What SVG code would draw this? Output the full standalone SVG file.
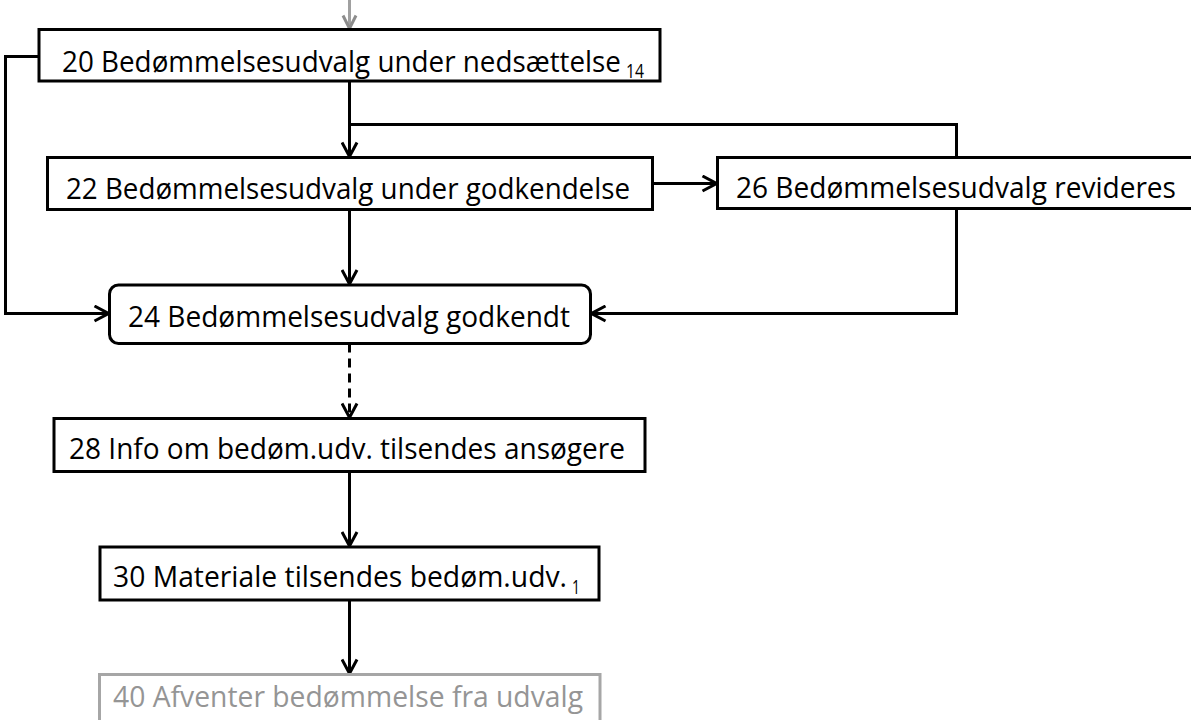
<svg xmlns="http://www.w3.org/2000/svg" width="1191" height="720" viewBox="0 0 1191 720">
<style>
  .box { fill: #ffffff; stroke: #000000; stroke-width: 3; }
  .gbox { fill: #ffffff; stroke: #a6a6a6; stroke-width: 3; }
  .lbl { font-family: "Open Sans", "Noto Sans", sans-serif; font-size: 30px; fill: #000000; }
  .glbl { font-family: "Open Sans", "Noto Sans", sans-serif; font-size: 30px; fill: #959595; }
  .sub { font-family: "Open Sans", "Noto Sans", sans-serif; font-size: 20px; fill: #000000; }
  .conn { fill: none; stroke: #000000; stroke-width: 3; }
  .dash { stroke-dasharray: 9 6; }
</style>
<defs>
  <marker id="arr" viewBox="0 0 18 18" refX="17" refY="9" markerWidth="18" markerHeight="18" markerUnits="userSpaceOnUse" orient="auto">
    <path d="M2.5,1.5 L16.5,9 L2.5,16.5" fill="none" stroke="#000000" stroke-width="3"/>
  </marker>
  <marker id="garr" viewBox="0 0 18 18" refX="17" refY="9" markerWidth="18" markerHeight="18" markerUnits="userSpaceOnUse" orient="auto">
    <path d="M3.5,2.5 L16.5,9 L3.5,15.5" fill="none" stroke="#8c8c8c" stroke-width="3"/>
  </marker>
</defs>
<rect width="1191" height="720" fill="#ffffff"/>
<g id="connectors">
  <path d="M349.5,0 L349.5,29" fill="none" stroke="#a0a0a0" stroke-width="3" marker-end="url(#garr)"/>
  <path class="conn" d="M349.5,81 L349.5,157" marker-end="url(#arr)"/>
  <path class="conn" d="M956.5,157.5 L956.5,124.5 L349.5,124.5"/>
  <path class="conn" d="M652.5,183.5 L717,183.5" marker-end="url(#arr)"/>
  <path class="conn" d="M39,56.5 L5.5,56.5 L5.5,313.5 L109,313.5" marker-end="url(#arr)"/>
  <path class="conn" d="M349.5,209.5 L349.5,284.5" marker-end="url(#arr)"/>
  <path class="conn" d="M956.5,208.5 L956.5,313.5 L591,313.5" marker-end="url(#arr)"/>
  <path class="conn dash" d="M349.5,343.5 L349.5,418" marker-end="url(#arr)"/>
  <path class="conn" d="M349.5,471.5 L349.5,546.5" marker-end="url(#arr)"/>
  <path class="conn" d="M349.5,600 L349.5,674" marker-end="url(#arr)"/>
</g>
<g id="n20">
  <rect class="box" x="39" y="29.5" width="621" height="51.5"/>
  <text class="lbl" x="62" y="72" textLength="559" lengthAdjust="spacingAndGlyphs">20 Bedømmelsesudvalg under nedsættelse</text>
  <text class="sub" x="626" y="78" textLength="18" lengthAdjust="spacingAndGlyphs">14</text>
</g>
<g id="n22">
  <rect class="box" x="47.5" y="157.5" width="605" height="52"/>
  <text class="lbl" x="66" y="198.5" textLength="564" lengthAdjust="spacingAndGlyphs">22 Bedømmelsesudvalg under godkendelse</text>
</g>
<g id="n26">
  <rect class="box" x="717.5" y="157.5" width="480" height="51"/>
  <text class="lbl" x="736" y="197.5" textLength="440" lengthAdjust="spacingAndGlyphs">26 Bedømmelsesudvalg revideres</text>
</g>
<g id="n24">
  <rect class="box" x="109.5" y="285" width="481" height="58.5" rx="9" ry="9"/>
  <text class="lbl" x="128" y="327" textLength="442" lengthAdjust="spacingAndGlyphs">24 Bedømmelsesudvalg godkendt</text>
</g>
<g id="n28">
  <rect class="box" x="54" y="418.5" width="591" height="53"/>
  <text class="lbl" x="69" y="458.5" textLength="556" lengthAdjust="spacingAndGlyphs">28 Info om bedøm.udv. tilsendes ansøgere</text>
</g>
<g id="n30">
  <rect class="box" x="100" y="547" width="499" height="53"/>
  <text class="lbl" x="113" y="587" textLength="454" lengthAdjust="spacingAndGlyphs">30 Materiale tilsendes bedøm.udv.</text>
  <text class="sub" x="572" y="593.5" textLength="8" lengthAdjust="spacingAndGlyphs">1</text>
</g>
<g id="n40">
  <rect class="gbox" x="99.5" y="674.5" width="500.5" height="60"/>
  <text class="glbl" x="113" y="707" textLength="470" lengthAdjust="spacingAndGlyphs">40 Afventer bedømmelse fra udvalg</text>
</g>
</svg>
